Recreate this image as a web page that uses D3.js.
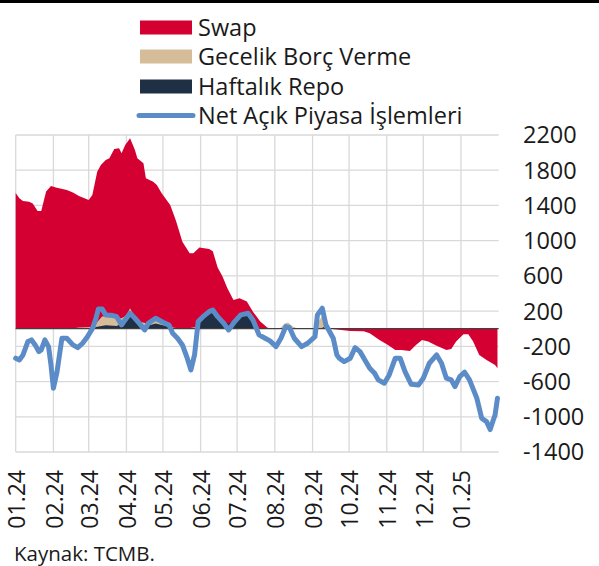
<!DOCTYPE html>
<html>
<head>
<meta charset="utf-8">
<script src="https://cdn.jsdelivr.net/npm/d3@7"></script>
<style>
body { margin: 0; background: #fff; }
text { font-family: "Open Sans", sans-serif; fill: #1a1a1a; }
</style>
</head>
<body>
<script>
// values (milyar TL)
var swap = [
  ["2024-01-01",1540],["2024-01-04",1482],["2024-01-07",1451],["2024-01-12",1443],["2024-01-15",1421],
  ["2024-01-19",1338],["2024-01-22",1338],["2024-01-26",1557],["2024-01-30",1622],["2024-02-03",1603],
  ["2024-02-12",1576],["2024-02-17",1546],["2024-02-22",1508],["2024-03-01",1463],["2024-03-04",1519],
  ["2024-03-08",1784],["2024-03-11",1860],["2024-03-15",1917],["2024-03-18",1936],["2024-03-22",2042],
  ["2024-03-26",2050],["2024-03-28",1993],["2024-03-31",2087],["2024-04-04",2163],["2024-04-08",2030],
  ["2024-04-10",1936],["2024-04-15",1879],["2024-04-17",1709],["2024-04-23",1670],["2024-04-26",1633],
  ["2024-04-30",1539],["2024-05-04",1463],["2024-05-07",1406],["2024-05-11",1255],["2024-05-12",1216],
  ["2024-05-17",989],["2024-05-23",857],["2024-05-26",857],["2024-05-31",921],["2024-06-08",906],
  ["2024-06-11",880],["2024-06-15",694],["2024-06-19",592],["2024-06-23",460],["2024-06-28",327],
  ["2024-07-03",346],["2024-07-09",308],["2024-07-14",194],["2024-07-20",81],["2024-07-26",12],
  ["2024-08-01",0],["2024-08-12",8],["2024-08-20",0],["2024-09-15",0],["2024-09-21",-10],
  ["2024-10-02",-25],["2024-10-13",-30],["2024-10-18",-51],["2024-10-26",-127],["2024-11-02",-184],
  ["2024-11-08",-241],["2024-11-13",-241],["2024-11-20",-252],["2024-11-25",-184],["2024-11-30",-127],
  ["2024-12-05",-146],["2024-12-12",-192],["2024-12-20",-241],["2024-12-24",-230],["2024-12-28",-146],
  ["2025-01-03",-62],["2025-01-07",-62],["2025-01-11",-146],["2025-01-16",-298],["2025-01-22",-354],
  ["2025-01-29",-411],["2025-01-31",-449]
];
var gecelik = [
  ["2024-01-01",0],["2024-02-15",0],["2024-02-22",15],["2024-03-04",20],["2024-03-07",60],
  ["2024-03-12",140],["2024-03-18",150],["2024-03-24",130],["2024-03-28",120],["2024-04-01",150],
  ["2024-04-04",233],["2024-04-08",130],["2024-04-12",80],["2024-04-18",60],["2024-04-25",100],
  ["2024-05-01",80],["2024-05-06",40],["2024-05-10",10],["2024-05-20",0],["2024-05-28",20],
  ["2024-06-01",70],["2024-06-08",60],["2024-06-15",50],["2024-06-25",40],["2024-07-05",50],
  ["2024-07-12",30],["2024-07-18",0],["2024-08-05",0],["2024-08-09",60],["2024-08-12",70],
  ["2024-08-15",30],["2024-08-20",0],["2024-09-03",0],["2024-09-06",80],["2024-09-09",150],
  ["2024-09-12",30],["2024-09-16",0],["2025-01-31",0]
];
var repo = [
  ["2024-01-01",0],["2024-03-05",0],["2024-03-07",20],["2024-03-15",40],["2024-03-24",30],
  ["2024-03-28",60],["2024-04-04",157],["2024-04-08",100],["2024-04-12",40],["2024-04-18",30],
  ["2024-04-25",60],["2024-05-01",40],["2024-05-06",20],["2024-05-10",0],["2024-05-28",0],
  ["2024-06-01",120],["2024-06-08",157],["2024-06-11",205],["2024-06-15",140],["2024-06-20",80],
  ["2024-06-24",60],["2024-06-29",100],["2024-07-04",180],["2024-07-10",200],["2024-07-14",100],
  ["2024-07-17",0],["2024-08-08",0],["2024-08-10",20],["2024-08-14",10],["2024-08-17",0],
  ["2024-09-08",0],["2024-09-10",20],["2024-09-12",0],["2025-01-31",0]
];
var netAPI = [
  ["2024-01-01",-335],["2024-01-04",-354],["2024-01-07",-298],["2024-01-11",-146],["2024-01-14",-127],
  ["2024-01-17",-184],["2024-01-20",-260],["2024-01-22",-241],["2024-01-25",-127],["2024-01-28",-203],
  ["2024-01-30",-411],["2024-02-01",-676],["2024-02-04",-487],["2024-02-08",-108],["2024-02-12",-108],
  ["2024-02-17",-184],["2024-02-21",-215],["2024-02-25",-165],["2024-02-29",-90],["2024-03-04",0],
  ["2024-03-07",119],["2024-03-09",225],["2024-03-12",225],["2024-03-15",157],["2024-03-21",150],
  ["2024-03-24",137],["2024-03-28",43],["2024-03-30",81],["2024-04-04",176],["2024-04-08",119],
  ["2024-04-12",55],["2024-04-16",-14],["2024-04-19",62],["2024-04-25",119],["2024-05-01",74],
  ["2024-05-06",43],["2024-05-09",-51],["2024-05-13",-108],["2024-05-17",-184],["2024-05-21",-335],
  ["2024-05-24",-468],["2024-05-27",-298],["2024-05-30",81],["2024-06-03",137],["2024-06-08",194],
  ["2024-06-11",213],["2024-06-15",137],["2024-06-20",62],["2024-06-24",-14],["2024-06-29",81],
  ["2024-07-04",157],["2024-07-10",176],["2024-07-14",100],["2024-07-17",0],["2024-07-19",-70],
  ["2024-07-24",-108],["2024-07-28",-138],["2024-08-02",-203],["2024-08-06",-108],["2024-08-10",24],
  ["2024-08-13",15],["2024-08-17",-108],["2024-08-23",-203],["2024-08-28",-165],["2024-09-03",-90],
  ["2024-09-05",157],["2024-09-09",233],["2024-09-12",43],["2024-09-18",-108],["2024-09-21",-298],
  ["2024-09-23",-335],["2024-09-27",-373],["2024-10-02",-335],["2024-10-06",-215],["2024-10-10",-260],
  ["2024-10-14",-354],["2024-10-18",-449],["2024-10-22",-505],["2024-10-25",-581],["2024-10-30",-619],
  ["2024-11-03",-525],["2024-11-08",-335],["2024-11-12",-335],["2024-11-16",-487],["2024-11-21",-630],
  ["2024-11-27",-640],["2024-12-01",-562],["2024-12-06",-392],["2024-12-12",-298],["2024-12-16",-392],
  ["2024-12-20",-562],["2024-12-24",-581],["2024-12-27",-657],["2024-12-31",-544],["2025-01-04",-494],
  ["2025-01-08",-581],["2025-01-14",-789],["2025-01-18",-1016],["2025-01-22",-1055],["2025-01-25",-1145],
  ["2025-01-27",-1060],["2025-01-29",-980],["2025-01-31",-789]
];
var yTicks = [2200, 1800, 1400, 1000, 600, 200, -200, -600, -1000, -1400];
var monthLabels = ["01.24","02.24","03.24","04.24","05.24","06.24","07.24","08.24","09.24","10.24","11.24","12.24","01.25"];
var legendNames = ["Swap", "Gecelik Borç Verme", "Haftalık Repo", "Net Açık Piyasa İşlemleri"];
var colors = ["#d50032", "#d5bd99", "#1f3044", "#5b8cc8"];

var W = 599, H = 566;
var parseDay = d3.timeParse("%Y-%m-%d");
var parseMonth = d3.timeParse("%m.%y");

function prep(arr) {
  return arr.map(function (d) { return { date: parseDay(d[0]), v: d[1] }; });
}

var svg = d3.select("body").append("svg")
  .attr("width", W)
  .attr("height", H);

// top rule
svg.append("rect").attr("x", 0).attr("y", 0).attr("width", W).attr("height", 3).attr("fill", "#000");

var x = d3.scaleTime()
  .domain([new Date(2024, 0, 1), new Date(2025, 1, 1)])
  .range([15.7, 498.7]);
var y = d3.scaleLinear()
  .domain([-1400, 2200])
  .range([452, 135]);

var months = monthLabels.map(function (m) { return parseMonth(m); });

// grid
var grid = svg.append("g").attr("stroke", "#d9d9d9").attr("stroke-width", 1.3);
grid.selectAll("line.h").data(yTicks).enter().append("line")
  .attr("x1", x.range()[0]).attr("x2", x.range()[1])
  .attr("y1", function (d) { return y(d); }).attr("y2", function (d) { return y(d); });
grid.selectAll("line.v").data(months).enter().append("line")
  .attr("x1", function (d) { return x(d); }).attr("x2", function (d) { return x(d); })
  .attr("y1", y(2200)).attr("y2", y(-1400));

// areas, drawn over each other (not stacked)
var area = d3.area()
  .x(function (d) { return x(d.date); })
  .y0(y(0))
  .y1(function (d) { return y(d.v); });

[swap, gecelik, repo].forEach(function (s, i) {
  svg.append("path")
    .datum(prep(s))
    .attr("d", area)
    .attr("fill", colors[i]);
});

// zero line
svg.append("line")
  .attr("x1", x.range()[0]).attr("x2", x.range()[1])
  .attr("y1", y(0)).attr("y2", y(0))
  .attr("stroke", "#404040").attr("stroke-width", 1.2);

// net line
var line = d3.line()
  .x(function (d) { return x(d.date); })
  .y(function (d) { return y(d.v); });
svg.append("path")
  .datum(prep(netAPI))
  .attr("d", line)
  .attr("fill", "none")
  .attr("stroke", colors[3])
  .attr("stroke-width", 5)
  .attr("stroke-linejoin", "round")
  .attr("stroke-linecap", "round");

// y axis on the right
svg.append("g").selectAll("text").data(yTicks).enter().append("text")
  .attr("x", 523)
  .attr("y", function (d) { return y(d); })
  .attr("dy", "0.36em")
  .attr("font-size", 23.5)
  .text(function (d) { return d; });

// x labels, rotated
svg.append("g").selectAll("text").data(monthLabels).enter().append("text")
  .attr("transform", function (d) { return "translate(" + (x(parseMonth(d)) + 1) + ",470) rotate(-90)"; })
  .attr("dy", "0.36em")
  .attr("text-anchor", "end")
  .attr("font-size", 23)
  .text(function (d) { return d; });

// legend
var rowY = [27.5, 56.5, 86.5, 115.5];
var leg = svg.append("g");
legendNames.forEach(function (name, i) {
  if (i < 3) {
    leg.append("rect")
      .attr("x", 140).attr("y", rowY[i] - 7)
      .attr("width", 52).attr("height", 14)
      .attr("fill", colors[i]);
  } else {
    leg.append("line")
      .attr("x1", 139).attr("x2", 193)
      .attr("y1", rowY[i]).attr("y2", rowY[i])
      .attr("stroke", colors[i]).attr("stroke-width", 5)
      .attr("stroke-linecap", "round");
  }
  leg.append("text")
    .attr("x", 198).attr("y", rowY[i])
    .attr("dy", "0.36em")
    .attr("font-size", 23.5)
    .text(name);
});

// source
svg.append("text")
  .attr("x", 14).attr("y", 554)
  .attr("dy", "0.36em")
  .attr("font-size", 20.5)
  .text("Kaynak: TCMB.");
</script>
</body>
</html>
